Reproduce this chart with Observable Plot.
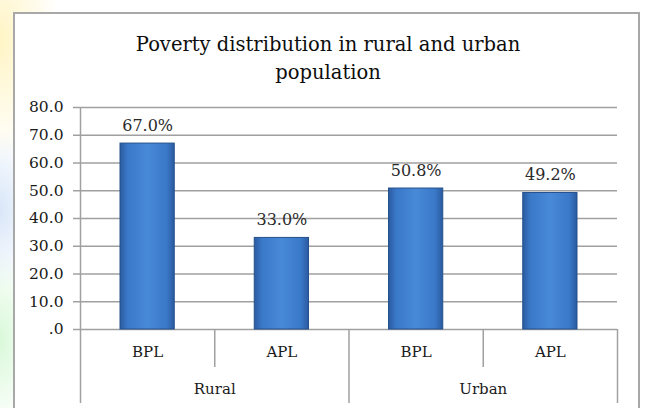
<!DOCTYPE html>
<html>
<head>
<meta charset="utf-8">
<script src="https://cdn.jsdelivr.net/npm/d3@7"></script>
<script src="https://cdn.jsdelivr.net/npm/@observablehq/plot@0.6"></script>
<style>
html, body { margin: 0; padding: 0; }
body {
  width: 646px; height: 408px; overflow: hidden; position: relative;
  background:
    radial-gradient(ellipse 60px 120px at 0px 40px, rgba(255,236,150,0.55), rgba(255,255,255,0) 100%),
    radial-gradient(ellipse 40px 80px at 0px 210px, rgba(170,200,240,0.45), rgba(255,255,255,0) 100%),
    radial-gradient(ellipse 40px 90px at 0px 340px, rgba(170,240,170,0.45), rgba(255,255,255,0) 100%),
    #ffffff;
}
#frame {
  position: absolute; left: 13px; top: 12px; width: 627px; height: 460px;
  box-sizing: border-box; border: 2px solid #a8a8a8; background: #ffffff;
}
#title {
  position: absolute; left: 10px; top: 31px; width: 636px; text-align: center;
  font-family: "DejaVu Serif", serif; font-size: 19.5px; line-height: 28px; color: #0d0d0d;
}
#chart { position: absolute; left: 0; top: 90px; }
</style>
</head>
<body>
<div id="frame"></div>
<div id="title">Poverty distribution in rural and urban<br>population</div>
<div id="chart"></div>
<script>
// ---- data ----
const groups = ["Rural", "Rural", "Urban", "Urban"];
const categories = ["BPL", "APL", "BPL", "APL"];
const values = [67.0, 33.0, 50.8, 49.2];
const groupNames = ["Rural", "Urban"];
const yTicks = [0, 10, 20, 30, 40, 50, 60, 70, 80];

// ---- derived tables ----
const rows = values.map((v, i) => ({ i, group: groups[i], cat: categories[i], value: v }));
const groupRows = groupNames.map(g => {
  const idx = groups.map((x, i) => x === g ? i : -1).filter(i => i >= 0);
  return { g, center: (d3.min(idx) + d3.max(idx) + 1) / 2 };
});
const innerBounds = [];
const outerBounds = [0];
for (let i = 1; i < groups.length; i++) {
  if (groups[i] === groups[i - 1]) innerBounds.push(i); else outerBounds.push(i);
}
outerBounds.push(groups.length);

const plot = Plot.plot({
  width: 646,
  height: 318,
  marginLeft: 80,
  marginRight: 29,
  marginTop: 17,
  marginBottom: 79,
  x: { domain: [0, categories.length], axis: null },
  y: { domain: [0, 80], axis: null },
  style: { fontFamily: "DejaVu Serif, serif", background: "transparent", overflow: "visible" },
  marks: [
    Plot.gridY(yTicks, { stroke: "#a0a0a0", strokeOpacity: 1, strokeWidth: 1.5 }),
    Plot.axisY(yTicks, {
      label: null, tickSize: 7, tickPadding: 10, fontSize: 15.5,
      stroke: "#a0a0a0", strokeWidth: 1.5, fill: "#1a1a1a",
      tickFormat: d => d === 0 ? ".0" : d.toFixed(1)
    }),
    Plot.ruleX([0], { stroke: "#a0a0a0", strokeWidth: 1.5 }),
    Plot.ruleX(outerBounds, { y1: () => 0, y2: () => 0, insetBottom: -74, stroke: "#a0a0a0", strokeWidth: 1.5 }),
    Plot.ruleX(innerBounds, { y1: () => 0, y2: () => 0, insetBottom: -38, stroke: "#a0a0a0", strokeWidth: 1.5 }),
    Plot.rectY(rows, {
      x1: d => d.i, x2: d => d.i + 1, y: "value",
      insetLeft: 40, insetRight: 40,
      fill: "url(#barGrad)", stroke: "#24508c", strokeWidth: 1
    }),
    Plot.text(rows, {
      x: d => d.i + 0.5, y: "value", text: d => d.value.toFixed(1) + "%",
      dy: -18, fontSize: 16, fill: "#2a2a2a"
    }),
    Plot.text(rows, {
      x: d => d.i + 0.5, text: "cat", frameAnchor: "bottom",
      dy: 27, fontSize: 15, fill: "#1a1a1a"
    }),
    Plot.text(groupRows, {
      x: "center", text: "g", frameAnchor: "bottom",
      dy: 64, fontSize: 15, fill: "#1a1a1a"
    })
  ]
});

const svg = d3.select(plot);
const defs = svg.insert("defs", ":first-child");
const grad = defs.append("linearGradient").attr("id", "barGrad")
  .attr("x1", "0%").attr("x2", "100%").attr("y1", "0%").attr("y2", "0%");
[["0%", "#2a5ba0"], ["14%", "#3a78c8"], ["50%", "#4889d8"], ["86%", "#3a78c8"], ["100%", "#2a5ba0"]]
  .forEach(([o, c]) => grad.append("stop").attr("offset", o).attr("stop-color", c));

document.getElementById("chart").appendChild(plot);
</script>
</body>
</html>
